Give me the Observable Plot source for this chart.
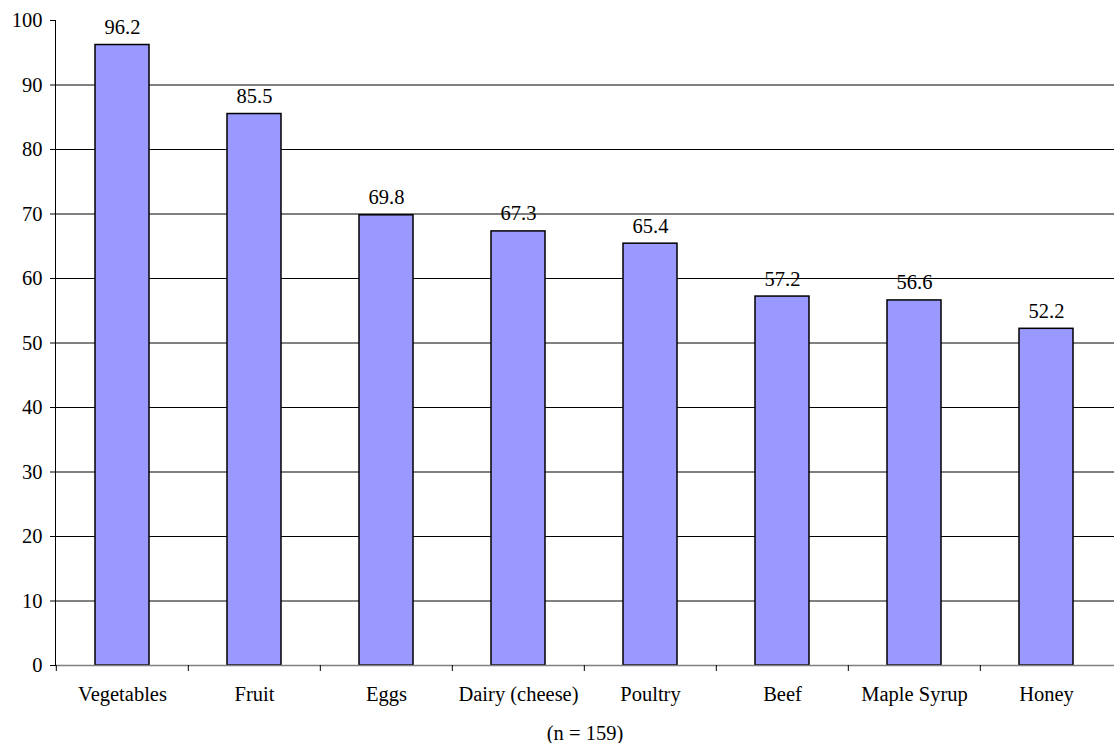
<!DOCTYPE html>
<html>
<head>
<meta charset="utf-8">
<script src="https://cdn.jsdelivr.net/npm/d3@7"></script>
<script src="https://cdn.jsdelivr.net/npm/@observablehq/plot@0.6"></script>
<style>
  html, body { margin: 0; padding: 0; background: #fff; }
  svg, svg text, svg g { font-family: "Liberation Serif", "Times New Roman", serif !important; }
</style>
</head>
<body>
<div id="chart"></div>
<script>
const categories = ["Vegetables", "Fruit", "Eggs", "Dairy (cheese)", "Poultry", "Beef", "Maple Syrup", "Honey"];
const values = [96.2, 85.5, 69.8, 67.3, 65.4, 57.2, 56.6, 52.2];
const yTicks = [0, 10, 20, 30, 40, 50, 60, 70, 80, 90, 100];
const gridValues = [10, 20, 30, 40, 50, 60, 70, 80, 90];
const caption = "(n = 159)";

const data = categories.map((c, i) => ({category: c, value: values[i]}));

const W = 1114, H = 743;
const mL = 55, mR = 0;
const band = (W - mL - mR) / categories.length;
const FS = 20.5;

const chart = Plot.plot({
  width: W,
  height: H,
  marginLeft: mL,
  marginRight: mR,
  marginTop: 20,
  marginBottom: 78,
  style: {fontSize: FS + "px", color: "#000", background: "#fff"},
  x: {domain: categories, paddingInner: 0.59, paddingOuter: 0.295, label: null},
  y: {domain: [0, 100], label: null},
  marks: [
    Plot.ruleY(gridValues, {stroke: "#000", strokeWidth: 1}),
    Plot.barY(data, {x: "category", y: "value", fill: "#9999FF", stroke: "#000", strokeWidth: 1.5}),
    Plot.ruleY([0], {stroke: "#808080", strokeWidth: 1.5}),
    Plot.frame({anchor: "left", stroke: "#000"}),
    Plot.text(data, {x: "category", y: "value", text: d => d.value.toFixed(1), lineAnchor: "bottom", dy: -11, fontSize: FS, fill: "#000"}),
    Plot.axisY({ticks: yTicks, tickSize: 5, tickPadding: 8, fontSize: FS, label: null, stroke: "#000", strokeOpacity: 1, color: "#000"}),
    Plot.axisX({tickSize: 0, tickPadding: 21, fontSize: FS, label: null, color: "#000"}),
    Plot.axisX({tickSize: 6, text: null, dx: -band / 2, label: null, stroke: "#000", strokeOpacity: 1}),
    Plot.axisX({tickSize: 0, text: null, label: caption, labelAnchor: "center", labelArrow: "none", labelOffset: 74, fontSize: FS, color: "#000"})
  ]
});
document.getElementById("chart").appendChild(chart);
</script>
</body>
</html>
